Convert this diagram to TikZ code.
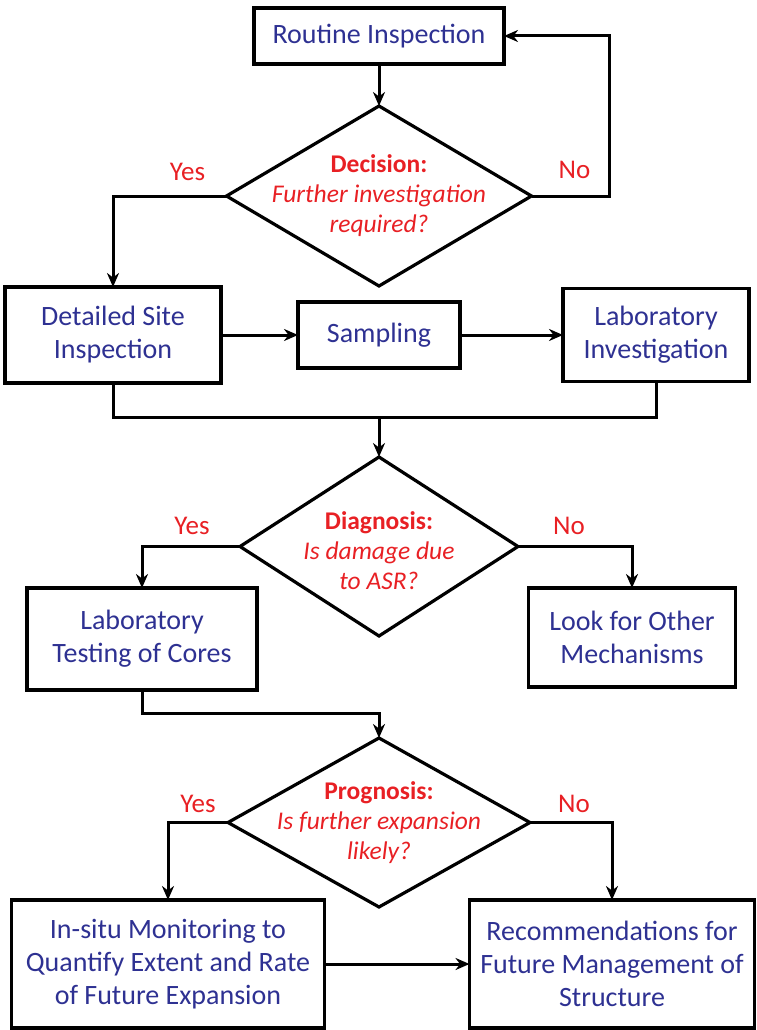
\documentclass[tikz,border=0pt]{standalone}
\usepackage{fontspec}
\setmainfont{Carlito}
\usepackage{tikz}
\usetikzlibrary{positioning,shapes.geometric,arrows.meta}
\definecolor{stepblue}{RGB}{46,49,146}
\definecolor{askred}{RGB}{232,32,36}

\begin{document}
\begin{tikzpicture}[x=1pt,y=1pt,
 box/.style={draw, line width=3.2pt, outer sep=0pt, inner sep=2pt, align=center, text=stepblue, font=\fontsize{28}{33}\selectfont},
 diam/.style={draw, diamond, line width=3.2pt, outer sep=0pt, inner sep=0pt},
 ask/.style={align=center, text=askred, font=\fontsize{25.5}{30}\selectfont},
 ans/.style={text=askred, font=\fontsize{27}{30}\selectfont},
 link/.style={line width=3pt, -{Stealth[length=14pt,width=12pt,inset=4.5pt]}},
 plainlink/.style={line width=3pt}]
\useasboundingbox (0,0) rectangle (756,-1030);
\node[box, minimum width=250pt, minimum height=56pt] (routine) at (379,-36) {Routine Inspection};
\node[diam, minimum width=305pt, minimum height=180pt, below=42pt of routine] (decision) {};
\node[ask] (decisiontxt) at (decision) {\textbf{Decision:}\\\textit{Further investigation}\\\textit{required?}};
%----------------------------------
\node[box, minimum width=162pt, minimum height=66pt, below=16pt of decision] (sampling) {Sampling};
\node[box, minimum width=216pt, minimum height=96pt, left=77pt of sampling] (detailed) {Detailed Site\\Inspection};
\node[box, minimum width=186pt, minimum height=93pt, right=103pt of sampling] (labinv) {Laboratory\\Investigation};
\coordinate[below=49pt of sampling] (merge);
%----------------------------------
\node[diam, minimum width=278pt, minimum height=179pt, below=40pt of merge] (diagnosis) {};
\node[ask] (diagnosistxt) at ([yshift=-4pt]diagnosis) {\textbf{Diagnosis:}\\\textit{Is damage due}\\\textit{to ASR?}};
\node[box, minimum width=230pt, minimum height=102pt, below=-48pt of diagnosis, xshift=-237pt] (labtest) {Laboratory\\Testing of Cores};
\node[box, minimum width=207pt, minimum height=99pt, below=-48pt of diagnosis, xshift=253pt] (other) {Look for Other\\Mechanisms};
\coordinate[below=23pt of labtest] (cores);
%----------------------------------
\node[diam, minimum width=302pt, minimum height=169pt, below=102pt of diagnosis] (prognosis) {};
\node[ask] (prognosistxt) at (prognosis) {\textbf{Prognosis:}\\\textit{Is further expansion}\\\textit{likely?}};
\node[box, minimum width=313pt, minimum height=128pt, below=-7pt of prognosis, xshift=-211pt] (insitu) {In-situ Monitoring to\\Quantify Extent and Rate\\of Future Expansion};
\node[box, minimum width=285pt, minimum height=128pt, below=-7pt of prognosis, xshift=233pt] (recomm) {Recommendations for\\Future Management of\\Structure};
%----------------------------------
\node[ans] (yes1) at ([shift={(-39pt,24pt)}]decision.west) {Yes};
\node[ans] (no1) at ([shift={(43pt,26pt)}]decision.east) {No};
\node[ans] (yes2) at ([shift={(-48pt,21pt)}]diagnosis.west) {Yes};
\node[ans] (no2) at ([shift={(51pt,21pt)}]diagnosis.east) {No};
\node[ans] (yes3) at ([shift={(-30pt,19pt)}]prognosis.west) {Yes};
\node[ans] (no3) at ([shift={(44pt,19pt)}]prognosis.east) {No};
%----------------------------------
\draw[link] (routine) -- (decision);
\draw[link] (decision.east) -- ++(78pt,0) |- (routine.east);
\draw[link] (decision.west) -| (detailed.north);
\draw[link] (detailed) -- (sampling); \draw[link] (sampling) -- (labinv);
\draw[plainlink] (detailed.south) |- (merge) -| (labinv.south);
\draw[link] (merge) -- (diagnosis.north);
\draw[link] (diagnosis.west) -| (labtest.north);
\draw[link] (diagnosis.east) -| (other.north);
\draw[link] (labtest.south) -- (cores) -| (prognosis.north);
\draw[link] (prognosis.west) -| (insitu.north);
\draw[link] (prognosis.east) -| (recomm.north);
\draw[link] (insitu) -- (recomm);
\end{tikzpicture}
\end{document}
